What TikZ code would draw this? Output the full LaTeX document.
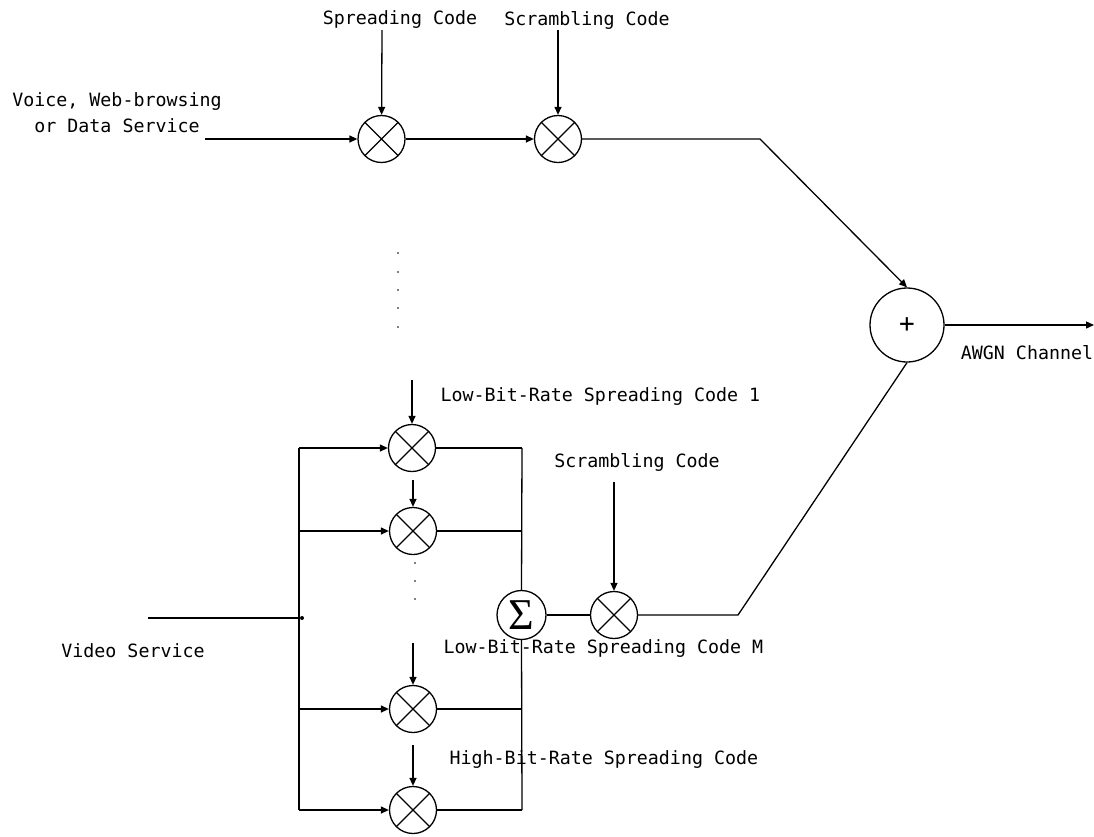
\documentclass[tikz,border=0pt]{standalone}
\usepackage{fontspec}
\newfontfamily\monof{DejaVu Sans Mono}
\newfontfamily\serf{Liberation Serif}
\usetikzlibrary{arrows.meta}
\begin{document}
\begin{tikzpicture}[x=1pt,y=-1pt, line width=1.3pt,
  lbl/.style={font=\monof\fontsize{18.3}{26}\selectfont, inner sep=0pt},
  mult/.style={circle, draw, minimum size=47pt, inner sep=0pt,
    path picture={\draw[line width=1.3pt] (path picture bounding box.north west) -- (path picture bounding box.south east)
      (path picture bounding box.north east) -- (path picture bounding box.south west);}},
  arr/.style={-{Triangle[length=8pt,width=7pt]}}]
\useasboundingbox (0,0) rectangle (1094,836);
% top branch
\node[lbl, align=center] (voice) at (117,113) {Voice, Web-browsing\\or Data Service};
\node[mult] (m1) at (381.5,139) {};
\node[mult] (m2) at (558,139) {};
\node[lbl] (sc1) at (400,20) {Spreading Code};
\node[lbl] (scr1) at (587,20) {Scrambling Code};
\coordinate (vin) at (205,139);
\coordinate (sp1top) at (382,30);
\coordinate (scr1top) at (558,30);
\draw[arr] (vin) -- (m1);
\draw[arr] (sp1top) -- (m1);
\draw[arr] (m1) -- (m2);
\draw[arr] (scr1top) -- (m2);
\node[circle, draw, minimum size=74pt, inner sep=0pt] (plus) at (907,325) {\monof\fontsize{26}{26}\selectfont +};
\coordinate (k1) at (760,139);
\draw[arr] (m2.east) -- (k1) -- (plus.north);
\coordinate (out) at (1094,325);
\draw[arr] (plus) -- (out);
\node[lbl] (awgn) at (1027,353) {AWGN Channel};
% dots
\foreach \y in {253,272,290,308,327} \fill (398,\y) circle (0.9);
\foreach \y in {563,581,599} \fill (415,\y) circle (0.9);
% lower branch
\node[mult] (ma) at (412,448) {};
\node[mult] (mb) at (413,531) {};
\node[mult] (mc) at (413,709) {};
\node[mult] (md) at (413,810) {};
\node[circle, draw, minimum size=49pt, inner sep=0pt] (sig) at (521.5,615) {\serf\fontsize{44}{44}\selectfont Σ};
\node[mult] (ms) at (614,615) {};
\coordinate (ca) at (412,380);
\coordinate (cb) at (413,480);
\coordinate (cc) at (413,643);
\coordinate (cd) at (413,745);
\coordinate (cs) at (614,482);
\draw[arr] (ca) -- (ma);
\draw[arr] (cb) -- (mb);
\draw[arr] (cc) -- (mc);
\draw[arr] (cd) -- (md);
\draw[arr] (cs) -- (ms);
\node[lbl, anchor=west] (l1) at (440,397) {Low-Bit-Rate Spreading Code 1};
\node[lbl, anchor=west] (lM) at (443,649) {Low-Bit-Rate Spreading Code M};
\node[lbl, anchor=west] (hb) at (449,759) {High-Bit-Rate Spreading Code};
\node[lbl] (scr2) at (637,462) {Scrambling Code};
\node[lbl] (video) at (133,651) {Video Service};
% buses
\coordinate (vin2) at (148,618);
\coordinate (j) at (299,618);
\coordinate (rb) at (522,0);
\draw (vin2) -- (j);
\fill (302,618) circle (2);
\draw (ma.west -| j) -- (md.west -| j);
\foreach \m in {ma,mb,mc,md} {\draw[arr] (\m.west -| j) -- (\m.west);}
\foreach \m in {ma,mb,mc,md} {\draw (\m.east) -- (\m.east -| rb);}
\draw (ma.east -| rb) -- (sig.north);
\draw (sig.south) -- (md.east -| rb);
\draw (sig) -- (ms);
\coordinate (k2) at (738,615);
\draw (ms.east) -- (k2) -- (plus.south);
\end{tikzpicture}
\end{document}
